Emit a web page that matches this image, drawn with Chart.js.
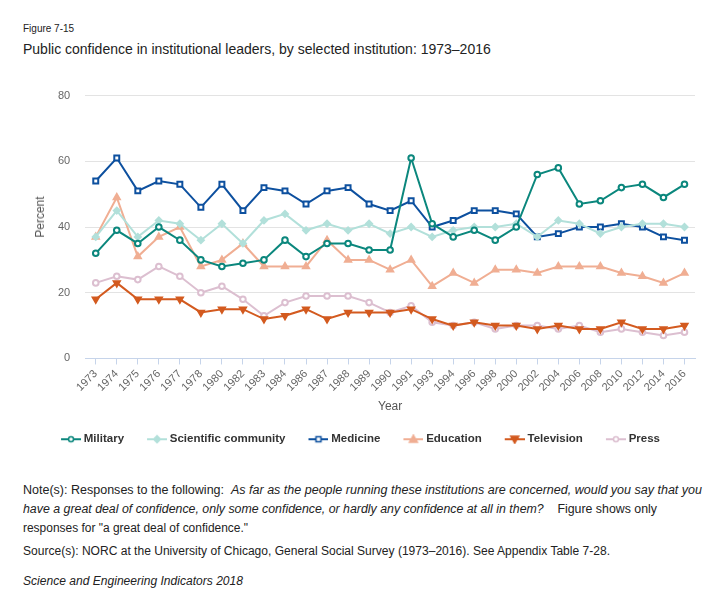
<!DOCTYPE html>
<html>
<head>
<meta charset="utf-8">
<script src="https://cdn.jsdelivr.net/npm/chart.js@4.4.0/dist/chart.umd.min.js"></script>
<style>
  body { margin: 0; background: #fff; font-family: "Liberation Sans", Arial, sans-serif; color: #222; }
  #page { position: relative; width: 724px; height: 614px; overflow: hidden; }
  .txt { position: absolute; left: 23px; white-space: nowrap; display: inline-block; transform-origin: 0 0; }
  #fig { top: 23px; font-size: 10px; }
  #title { top: 41px; font-size: 14px; }
  .note { font-size: 12px; line-height: 14px; }
  #ytitle { position: absolute; left: 40px; top: 217px; font-size: 12px; color: #555;
            transform: translate(-50%, -50%) rotate(-90deg); white-space: nowrap; }
  #wrap { position: absolute; left: 0; top: 74px; width: 724px; height: 381px; }
</style>
</head>
<body>
<div id="page">
  <div class="txt" id="fig">Figure 7-15</div>
  <div class="txt" id="title">Public confidence in institutional leaders, by selected institution: 1973–2016</div>
  <div id="wrap"><canvas id="chart"></canvas></div>
  <div id="ytitle">Percent</div>
  <div class="txt note" data-w="679" style="top:483px">Note(s): Responses to the following:&nbsp; <i>As far as the people running these institutions are concerned, would you say that you</i></div>
  <div class="txt note" data-w="634" style="top:502px"><i>have a great deal of confidence, only some confidence, or hardly any confidence at all in them?</i>&nbsp;&nbsp;&nbsp; Figure shows only</div>
  <div class="txt note" data-w="225" style="top:521px">responses for "a great deal of confidence."</div>
  <div class="txt note" data-w="587" style="top:544px">Source(s): NORC at the University of Chicago, General Social Survey (1973–2016). See Appendix Table 7-28.</div>
  <div class="txt note" data-w="220" style="top:574px"><i>Science and Engineering Indicators 2018</i></div>
</div>
<script>
// 年份（类别轴）
const years = ['1973', '1974', '1975', '1976', '1977', '1978', '1980', '1982', '1983', '1984',
  '1986', '1987', '1988', '1989', '1990', '1991', '1993', '1994', '1996', '1998',
  '2000', '2002', '2004', '2006', '2008', '2010', '2012', '2014', '2016'];

// 各机构数值（百分比）
const military   = [32, 39, 35, 40, 36, 30, 28, 29, 30, 36, 31, 35, 35, 33, 33, 61, 41, 37, 39, 36, 40, 56, 58, 47, 48, 52, 53, 49, 53];
const scientific = [37, 45, 37, 42, 41, 36, 41, 35, 42, 44, 39, 41, 39, 41, 38, 40, 37, 39, 40, 40, 41, 37, 42, 41, 38, 40, 41, 41, 40];
const medicine   = [54, 61, 51, 54, 53, 46, 53, 45, 52, 51, 47, 51, 52, 47, 45, 48, 40, 42, 45, 45, 44, 37, 38, 40, 40, 41, 40, 37, 36];
const education  = [37, 49, 31, 37, 40, 28, 30, 35, 28, 28, 28, 36, 30, 30, 27, 30, 22, 26, 23, 27, 27, 26, 28, 28, 28, 26, 25, 23, 26];
const television = [18, 23, 18, 18, 18, 14, 15, 15, 12, 13, 15, 12, 14, 14, 14, 15, 12, 10, 11, 10, 10, 9, 10, 9, 9, 11, 9, 9, 10];
const press      = [23, 25, 24, 28, 25, 20, 22, 18, 13, 17, 19, 19, 19, 17, 14, 16, 11, 10, 11, 9, 10, 10, 9, 10, 8, 9, 8, 7, 8];

const yTicks = [0, 20, 40, 60, 80];

// 注释文字按参考宽度微调
document.querySelectorAll('.note').forEach(el => {
  const w = el.getBoundingClientRect().width;
  let s = parseFloat(el.dataset.w) / w;
  s = Math.min(1.12, Math.max(0.88, s));
  el.style.transform = 'scaleX(' + s + ')';
});

// 图例图标：短线 + 标记（左侧留空白，控制间距）
function legendIcon(color, shape, fill) {
  const c = document.createElement('canvas');
  c.width = 30; c.height = 10;
  const g = c.getContext('2d');
  g.strokeStyle = color; g.lineWidth = 2;
  g.beginPath(); g.moveTo(10, 5); g.lineTo(30, 5); g.stroke();
  g.fillStyle = fill; g.lineWidth = 1.5;
  g.beginPath();
  const cx = 20;
  if (shape === 'circle') g.arc(cx, 5, 2.5, 0, Math.PI * 2);
  else if (shape === 'rect') g.rect(cx - 2.5, 2.5, 5, 5);
  else if (shape === 'rectRot') { g.moveTo(cx, 1.5); g.lineTo(cx + 3.5, 5); g.lineTo(cx, 8.5); g.lineTo(cx - 3.5, 5); g.closePath(); }
  else if (shape === 'triangle') { g.moveTo(cx, 1); g.lineTo(cx + 4, 8); g.lineTo(cx - 4, 8); g.closePath(); }
  else if (shape === 'triDown') { g.moveTo(cx, 9); g.lineTo(cx + 4, 2); g.lineTo(cx - 4, 2); g.closePath(); }
  g.fill(); g.stroke();
  return c;
}

function series(label, data, color, shape, fill, rotation) {
  const radius = { circle: 2.8, rect: 3.5, rectRot: 3, triangle: 3.5, triDown: 3.5 }[shape];
  return {
    label, data,
    borderColor: color,
    backgroundColor: color,
    pointBackgroundColor: fill,
    pointBorderColor: color,
    pointStyle: shape === 'triDown' ? 'triangle' : shape,
    rotation: rotation || 0,
    pointRadius: radius,
    pointBorderWidth: 2,
    borderWidth: 2,
    tension: 0,
    legendIcon: legendIcon(color, shape, fill)
  };
}

const datasets = [
  series('Military', military, '#0b877d', 'circle', '#ffffff'),
  series('Scientific community', scientific, '#b2e0da', 'rectRot', '#b2e0da'),
  series('Medicine', medicine, '#0d509f', 'rect', '#ffffff'),
  series('Education', education, '#f0ae93', 'triangle', '#f0ae93'),
  series('Television', television, '#d35a1f', 'triDown', '#d35a1f', 180),
  series('Press', press, '#dcbfd0', 'circle', '#ffffff')
];

// 图例整体左移，使其在画布中居中
const legendShift = {
  id: 'legendShift',
  afterLayout(chart) {
    chart.legend.left -= 12;
    chart.legend.right -= 12;
    if (chart.legend.legendHitBoxes) chart.legend.legendHitBoxes.forEach(b => { b.left -= 12; });
  }
};

new Chart(document.getElementById('chart'), {
  type: 'line',
  data: { labels: years, datasets },
  plugins: [legendShift],
  options: {
    responsive: true,
    maintainAspectRatio: false,
    animation: false,
    layout: { padding: { top: 7, right: 29, left: 43, bottom: 0 } },
    plugins: {
      tooltip: { enabled: false },
      legend: {
        position: 'bottom',
        labels: {
          usePointStyle: true,
          pointStyleWidth: 24,
          color: '#333',
          padding: 16,
          font: { family: 'Liberation Sans', size: 11.5, weight: 'bold' },
          generateLabels(chart) {
            return chart.data.datasets.map((ds, i) => ({
              text: ds.label,
              pointStyle: ds.legendIcon,
              fillStyle: ds.borderColor,
              strokeStyle: ds.borderColor,
              fontColor: '#333',
              hidden: false,
              datasetIndex: i
            }));
          }
        }
      }
    },
    scales: {
      x: {
        offset: true,
        grid: { display: true, drawOnChartArea: false, drawTicks: true, tickLength: 6, color: '#c6d4ea' },
        border: { color: '#c6d4ea' },
        ticks: { color: '#666', maxRotation: 45, minRotation: 45, autoSkip: false, font: { family: 'Liberation Sans', size: 11 } },
        title: { display: true, text: 'Year', color: '#555', font: { family: 'Liberation Sans', size: 12 }, padding: { top: 2, bottom: 4 } }
      },
      y: {
        min: 0, max: 80,
        afterBuildTicks(axis) { axis.ticks = yTicks.map(v => ({ value: v })); },
        grid: { color: '#e3e3e3', drawTicks: false },
        border: { display: false },
        ticks: { color: '#666', padding: 15, font: { family: 'Liberation Sans', size: 11 } },
        title: { display: false }
      }
    }
  }
});
</script>
</body>
</html>
